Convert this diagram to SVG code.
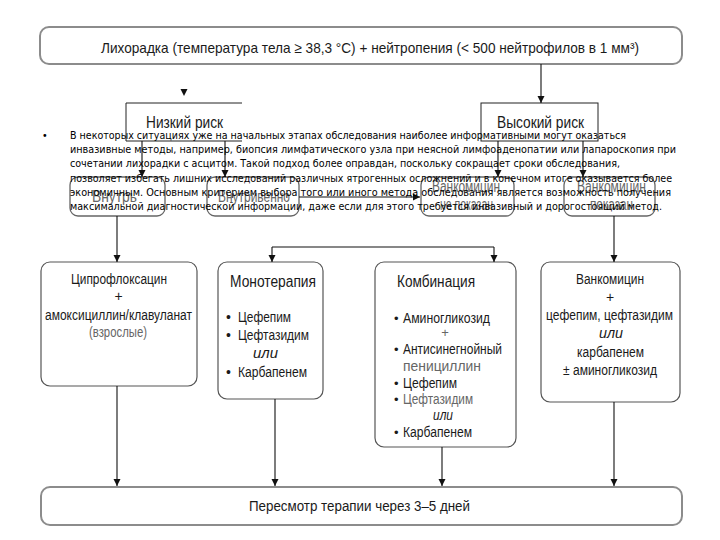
<svg xmlns="http://www.w3.org/2000/svg" width="720" height="540" viewBox="0 0 720 540">
<defs>
<marker id="ah" markerUnits="userSpaceOnUse" markerWidth="8" markerHeight="8" refX="7" refY="3.5" orient="auto">
<path d="M0,0 L7,3.5 L0,7 z" fill="#111"/>
</marker>
<style>
.big{fill:#fff;stroke:#8c8c8c;stroke-width:2}
.risk{fill:#fff;stroke:#222;stroke-width:1}
.sm{fill:none;stroke:#666;stroke-width:1.3}
.nd{fill:#fff;stroke:#555;stroke-width:1.2}
.c{fill:none;stroke:#111;stroke-width:1.1}
.c2{fill:none;stroke:#111;stroke-width:1.1;marker-end:url(#ah)}
.t{font-family:"Liberation Sans Narrow","Liberation Sans",Arial,sans-serif;fill:#1a1a1a}
.g{font-family:"Liberation Sans Narrow","Liberation Sans",Arial,sans-serif;fill:#666}
.i{font-style:italic}
.p{font-family:"DejaVu Sans","Liberation Sans",sans-serif;font-size:9.6px;fill:#000}
</style>
</defs>
<rect width="720" height="540" fill="#fff"/>

<g id="fever">
<rect class="big" x="40" y="27" width="642" height="37" rx="9"/>
<text class="t" x="101" y="53" font-size="15" textLength="538" lengthAdjust="spacingAndGlyphs">Лихорадка (температура тела ≥ 38,3 °C) + нейтропения (&lt; 500 нейтрофилов в 1 мм³)</text>
</g>

<g id="low-risk">
<path class="risk" d="M242,103 H126 V141 H242"/>
<text class="t" x="146" y="128" font-size="16" textLength="77" lengthAdjust="spacingAndGlyphs" fill="#333">Низкий риск</text>
</g>

<g id="high-risk">
<rect class="risk" x="481" y="103" width="117" height="38"/>
<text class="t" x="497" y="128" font-size="16" textLength="87" lengthAdjust="spacingAndGlyphs" fill="#333">Высокий риск</text>
</g>

<g id="oral">
<rect class="sm" x="70" y="177" width="95" height="39" rx="8"/>
<text class="g" x="92" y="202" font-size="16" textLength="45" lengthAdjust="spacingAndGlyphs">Внутрь</text>
</g>

<g id="iv">
<rect class="sm" x="207" y="177" width="92" height="39" rx="8"/>
<text class="g" x="218" y="202" font-size="16" textLength="72" lengthAdjust="spacingAndGlyphs">Внутривенно</text>
</g>

<g id="vanco-no">
<rect class="sm" x="421" y="177" width="93" height="39" rx="8"/>
<text class="g" x="432" y="192" font-size="16" textLength="68" lengthAdjust="spacingAndGlyphs">Ванкомицин</text>
<text class="g" x="440" y="210" font-size="16" textLength="53" lengthAdjust="spacingAndGlyphs">не показан</text>
</g>

<g id="vanco-yes">
<rect class="sm" x="564" y="177" width="91" height="39" rx="8"/>
<text class="g" x="577" y="192" font-size="16" textLength="69" lengthAdjust="spacingAndGlyphs">Ванкомицин</text>
<text class="g" x="590" y="210" font-size="16" textLength="43" lengthAdjust="spacingAndGlyphs">показан</text>
</g>

<g id="cipro">
<rect class="nd" x="41" y="262" width="156" height="124" rx="9"/>
<text class="t" x="71" y="284" font-size="14" textLength="96" lengthAdjust="spacingAndGlyphs">Ципрофлоксацин</text>
<text class="t" x="118.5" y="301" font-size="14" text-anchor="middle">+</text>
<text class="t" x="45" y="320" font-size="14" textLength="147" lengthAdjust="spacingAndGlyphs">амоксициллин/клавуланат</text>
<text class="g" x="89" y="337" font-size="14" textLength="58" lengthAdjust="spacingAndGlyphs">(взрослые)</text>
</g>

<g id="mono">
<rect class="nd" x="218" y="262" width="105" height="137" rx="9"/>
<text class="t" x="230" y="287" font-size="16" textLength="86" lengthAdjust="spacingAndGlyphs">Монотерапия</text>
<text class="t" x="226" y="322" font-size="14">•</text>
<text class="t" x="238" y="322" font-size="14" textLength="53" lengthAdjust="spacingAndGlyphs">Цефепим</text>
<text class="t" x="226" y="340" font-size="14">•</text>
<text class="t" x="238" y="340" font-size="14" textLength="71" lengthAdjust="spacingAndGlyphs">Цефтазидим</text>
<text class="t i" x="253" y="358" font-size="14" textLength="25" lengthAdjust="spacingAndGlyphs">или</text>
<text class="t" x="226" y="377" font-size="14">•</text>
<text class="t" x="238" y="377" font-size="14" textLength="69" lengthAdjust="spacingAndGlyphs">Карбапенем</text>
</g>

<g id="combo">
<rect class="nd" x="375" y="262" width="141" height="185" rx="9"/>
<text class="t" x="397" y="287" font-size="16" textLength="78" lengthAdjust="spacingAndGlyphs">Комбинация</text>
<text class="t" x="394" y="323" font-size="13">•</text>
<text class="t" x="403" y="323" font-size="14" textLength="87" lengthAdjust="spacingAndGlyphs">Аминогликозид</text>
<text class="g" x="445" y="337" font-size="13" text-anchor="middle">+</text>
<text class="t" x="394" y="354" font-size="13">•</text>
<text class="t" x="403" y="354" font-size="14" textLength="99" lengthAdjust="spacingAndGlyphs">Антисинегнойный</text>
<text class="g" x="403" y="371" font-size="14" textLength="78" lengthAdjust="spacingAndGlyphs">пенициллин</text>
<text class="t" x="394" y="388" font-size="13">•</text>
<text class="t" x="403" y="388" font-size="14" textLength="54" lengthAdjust="spacingAndGlyphs">Цефепим</text>
<text class="t" x="394" y="404" font-size="13">•</text>
<text class="g" x="403" y="404" font-size="14" textLength="70" lengthAdjust="spacingAndGlyphs">Цефтазидим</text>
<text class="t i" x="433" y="420" font-size="14" textLength="20" lengthAdjust="spacingAndGlyphs">или</text>
<text class="t" x="394" y="437" font-size="13">•</text>
<text class="t" x="403" y="437" font-size="14" textLength="69" lengthAdjust="spacingAndGlyphs">Карбапенем</text>
</g>

<g id="vanco-combo">
<rect class="nd" x="541" y="262" width="139" height="140" rx="9"/>
<text class="t" x="576" y="284" font-size="14" textLength="68" lengthAdjust="spacingAndGlyphs">Ванкомицин</text>
<text class="t" x="610" y="302" font-size="14" text-anchor="middle">+</text>
<text class="t" x="546" y="320" font-size="14" textLength="127" lengthAdjust="spacingAndGlyphs">цефепим, цефтазидим</text>
<text class="t i" x="599" y="338" font-size="14" textLength="24" lengthAdjust="spacingAndGlyphs">или</text>
<text class="t" x="577" y="357" font-size="14" textLength="67" lengthAdjust="spacingAndGlyphs">карбапенем</text>
<text class="t" x="563" y="375" font-size="14" textLength="94" lengthAdjust="spacingAndGlyphs">± аминогликозид</text>
</g>

<g id="review">
<rect class="big" x="41" y="487" width="641" height="38" rx="9"/>
<text class="t" x="249" y="511" font-size="14" textLength="221" lengthAdjust="spacingAndGlyphs">Пересмотр терапии через 3–5 дней</text>
</g>

<g id="connectors">
<path class="c2" d="M541,64 V103"/>
<polygon points="180.5,89 187.5,89 184,96" fill="#111"/>
<path class="c2" d="M142,141 V177"/>
<path class="c2" d="M225,141 V177"/>
<path class="c2" d="M498,141 V177"/>
<path class="c2" d="M583,141 V177"/>
<path class="c2" d="M299,197 H420"/>
<path class="c2" d="M117,216 V262"/>
<path class="c" d="M272,247 H494"/>
<path class="c2" d="M272,247 V262"/>
<path class="c2" d="M494,247 V262"/>
<path class="c2" d="M614,216 V262"/>
<path class="c2" d="M117,386 V486"/>
<path class="c2" d="M275,399 V486"/>
<path class="c2" d="M442,447 V486"/>
<path class="c2" d="M614,402 V486"/>
</g>

<g id="paragraph">
<text class="p" x="42" y="139">•</text>
<text class="p" x="70" y="139" textLength="556" lengthAdjust="spacingAndGlyphs">В некоторых ситуациях уже на начальных этапах обследования наиболее информативными могут оказаться</text>
<text class="p" x="70" y="153" textLength="606" lengthAdjust="spacingAndGlyphs">инвазивные методы, например, биопсия лимфатического узла при неясной лимфоаденопатии или лапароскопия при</text>
<text class="p" x="70" y="167" textLength="550" lengthAdjust="spacingAndGlyphs">сочетании лихорадки с асцитом. Такой подход более оправдан, поскольку сокращает сроки обследования,</text>
<text class="p" x="70" y="182" textLength="602" lengthAdjust="spacingAndGlyphs">позволяет избегать лишних исследований различных ятрогенных осложнений и в конечном итоге оказывается более</text>
<text class="p" x="70" y="196" textLength="601" lengthAdjust="spacingAndGlyphs">экономичным. Основным критерием выбора того или иного метода обследования является возможность получения</text>
<text class="p" x="70" y="210" textLength="592" lengthAdjust="spacingAndGlyphs">максимальной диагностической информации, даже если для этого требуется инвазивный и дорогостоящий метод.</text>
</g>
</svg>
